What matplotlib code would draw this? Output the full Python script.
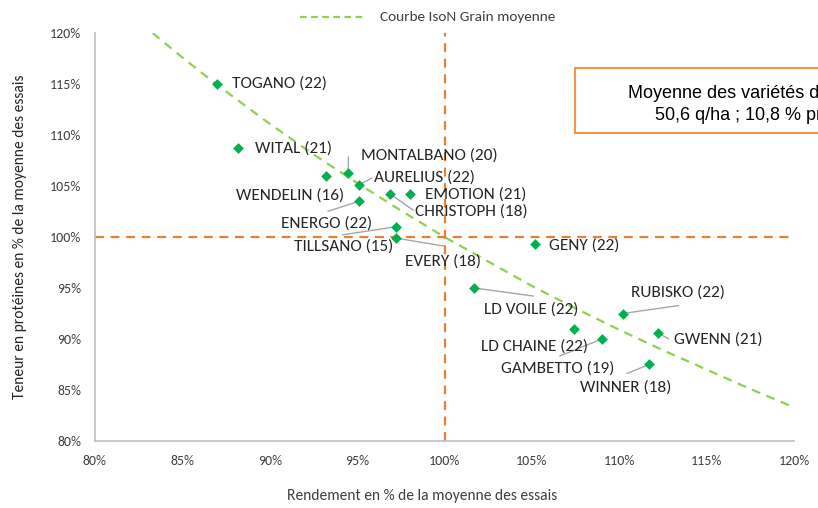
import matplotlib
matplotlib.use("Agg")
import matplotlib.pyplot as plt
from matplotlib.patches import Rectangle
from matplotlib.lines import Line2D
from matplotlib.ticker import FuncFormatter

# rendement (% moyenne) / protéines (% moyenne) par variété
varietes = ["TOGANO (22)", "WITAL (21)", "TILLSANO (15)", "MONTALBANO (20)",
            "AURELIUS (22)", "WENDELIN (16)", "CHRISTOPH (18)", "EMOTION (21)",
            "ENERGO (22)", "EVERY (18)", "GENY (22)", "LD VOILE (22)",
            "LD CHAINE (22)", "GAMBETTO (19)", "RUBISKO (22)", "GWENN (21)",
            "WINNER (18)"]
rendement = [87.0, 88.2, 93.2, 94.5, 95.1, 95.1, 96.9, 98.0, 97.2, 97.2,
             105.2, 101.7, 107.4, 109.0, 110.2, 112.2, 111.7]
proteines = [115.0, 108.7, 106.0, 106.3, 105.1, 103.5, 104.2, 104.2, 101.0, 99.9,
             99.3, 95.0, 91.0, 90.0, 92.5, 90.6, 87.5]

# courbe IsoN grain moyenne
courbe_x = [83.3, 85, 87, 90, 92.5, 95, 97.5, 100, 102.5, 105, 107.5, 110, 112.5, 115, 117.5, 120]
courbe_y = [120.0, 117.6, 114.9, 111.1, 108.1, 105.3, 102.6, 100.0, 97.6, 95.2, 93.0, 90.9, 88.9, 87.0, 85.1, 83.3]

# position des étiquettes (décalage en pixels) et fin du trait de rappel
label_off = [(15, 0), (17, 0), (-32, -71), (13, 17), (15, 7), (-123, 6), (25, -17),
             (15, 0), (-115, 3), (9, -24), (14, -1), (10, -22), (-93, -18),
             (-101, -30), (8, 21), (16, -7), (-69, -23)]
leader_end = [None, None, None, (0, 16), (13, 7), (-31, -10), (23, -16), None,
              (-53, -8), (48, -8), None, (59, -8), None, (-42, -17), (56, 8),
              (11, -6), (-22, -9)]

GREEN = "#00B050"
LGREEN = "#92D050"
ORANGE = "#ED7D31"
GREY = "#A6A6A6"
CAL = ["Carlito", "DejaVu Sans"]
plt.rcParams["font.family"] = CAL

fig = plt.figure(figsize=(8.18, 5.08), dpi=100)
ax = fig.add_axes([0.1161, 0.1319, 0.8546, 0.8031])

ax.plot(courbe_x, courbe_y, color=LGREEN, lw=1.6, ls=(0, (4, 3)), zorder=2)
ax.axvline(100, color=ORANGE, lw=1.6, ls=(0, (4, 3)), zorder=1)
ax.axhline(100, color=ORANGE, lw=1.6, ls=(0, (4, 3)), zorder=1)
ax.scatter(rendement, proteines, marker="D", s=30, color=GREEN, zorder=4, linewidths=0)

for name, x, y, off, le in zip(varietes, rendement, proteines, label_off, leader_end):
    if le is not None:
        ax.annotate("", xy=(x, y), xytext=le, textcoords="offset pixels",
                    arrowprops=dict(arrowstyle="-", color=GREY, lw=1.0,
                                    shrinkA=0, shrinkB=2), zorder=3)
    ax.annotate(name, xy=(x, y), xytext=off, textcoords="offset pixels",
                ha="left", va="center", fontsize=12.4, color="#262626", zorder=5)

ax.set_xlim(80, 120)
ax.set_ylim(80, 120)
ax.set_xticks(range(80, 121, 5))
ax.set_yticks(range(80, 121, 5))
pct = FuncFormatter(lambda v, p: f"{v:.0f}%")
ax.xaxis.set_major_formatter(pct)
ax.yaxis.set_major_formatter(pct)
ax.tick_params(length=0, labelsize=10, colors="#404040", pad=10)
for s in ("top", "right"):
    ax.spines[s].set_visible(False)
for s in ("left", "bottom"):
    ax.spines[s].set_color("#BFBFBF")
    ax.spines[s].set_linewidth(1.2)

ax.set_xlabel("Rendement en % de la moyenne des essais",
              fontsize=11.2, color="#404040", labelpad=16, x=0.468)
ax.set_ylabel("Teneur en protéines en % de la moyenne des essais",
              fontsize=11.2, color="#262626", labelpad=16)

# légende en haut
fig.add_artist(Line2D([300 / 818, 364 / 818], [1 - 17 / 508] * 2, color=LGREEN,
                      lw=1.6, ls=(0, (3, 2))))
fig.text(380 / 818, 1 - 17 / 508, "Courbe IsoN Grain moyenne",
         fontsize=11, color="#404040", va="center")

# encadré moyenne (coupé par le bord, comme dans l'original)
fig.add_artist(Rectangle((575 / 818, 1 - 133 / 508), 300 / 818, 65 / 508,
                         fill=True, facecolor="white", edgecolor="#F79646", lw=1.5))
fig.text(628 / 818, 1 - 93 / 508, "Moyenne des variétés des essais",
         family=["Liberation Sans", "DejaVu Sans"], fontsize=13, color="black", va="center")
fig.text(655 / 818, 1 - 115 / 508, "50,6 q/ha ; 10,8 % protéines",
         family=["Liberation Sans", "DejaVu Sans"], fontsize=13, color="black", va="center")

fig.savefig("out.png", dpi=100)
